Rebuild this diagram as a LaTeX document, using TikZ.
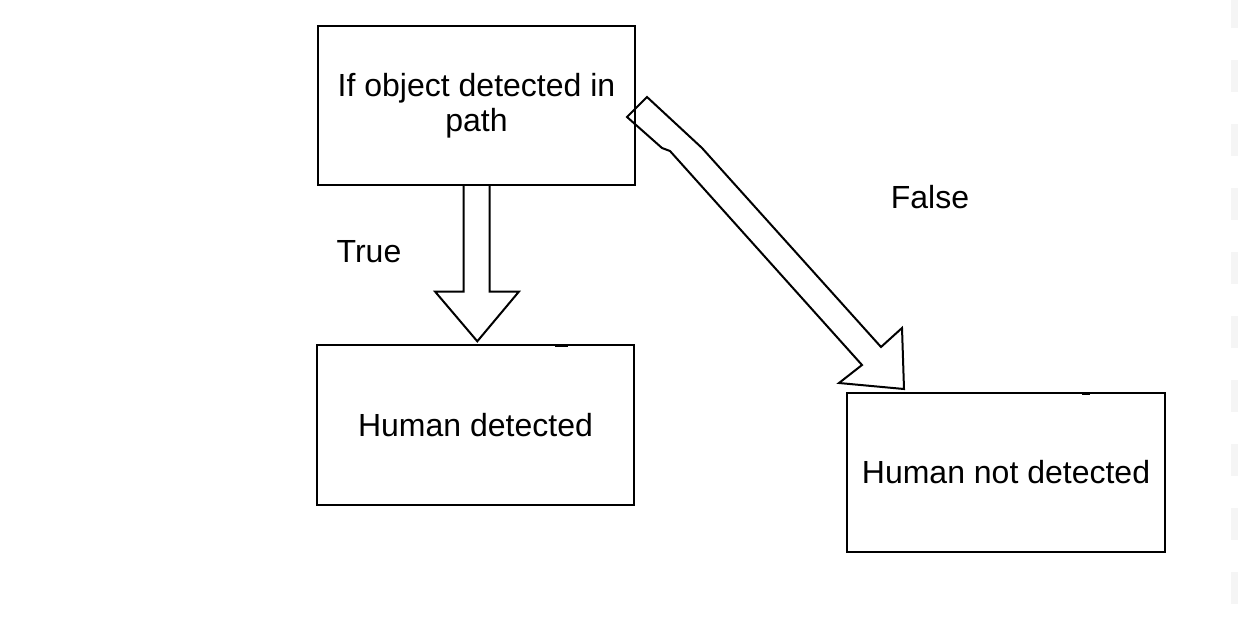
\documentclass[tikz,border=0pt]{standalone}
\usepackage{fontspec}
\setmainfont{Liberation Sans}
\usetikzlibrary{calc}
\begin{document}
\begin{tikzpicture}[x=1pt,y=-1pt,
  box/.style={draw, line width=2pt, inner sep=0pt, align=center,
    font=\fontsize{32}{35}\selectfont},
  lbl/.style={inner sep=0pt, font=\fontsize{32}{35}\selectfont},
  blockarrow/.style={draw, line width=2pt, line join=miter},
  tickmark/.style={line width=3pt}]
\useasboundingbox (0,0) rectangle (1238,632);
% right edge light dashes
\draw[draw=black!4, line width=7.3pt, dash pattern=on 32pt off 32pt, dash phase=4pt]
  (1234.35,0) -- (1234.35,632);
% boxes
\node[box, minimum width=317pt, minimum height=159pt] (b1) at (476.5,105.5) {If object detected in\\path};
\node[box, minimum width=317pt, minimum height=160pt] (b2) at (475.5,425) {Human detected};
\node[box, minimum width=318pt, minimum height=159pt] (b3) at (1006,472.5) {Human not detected};
% labels
\node[lbl] (ltrue) at (369,252) {True};
\node[lbl] (lfalse) at (930,197) {False};
% down block arrow (True)
\draw[blockarrow]
  ($(b1.south)+(-13,0)$) -- ($(b1.south)+(-13,105.5)$) -- ($(b1.south)+(-41.5,105.5)$)
  -- ($(b2.north)+(1.8,-2.7)$)
  -- ($(b1.south)+(42.5,105.5)$) -- ($(b1.south)+(13,105.5)$) -- ($(b1.south)+(13,0)$);
% diagonal block arrow (False)
\coordinate (tailA) at (647,97);
\coordinate (tailB) at (627,117);
\coordinate (tip) at ($(b3.north west)+(58,-3)$);
\draw[blockarrow]
  (tailA) -- (702,148) -- (881,347) -- (902,328) -- (tip)
  -- (839,383) -- (862,365) -- (670,151) -- (662,148) -- (tailB) -- cycle;
% small marks on box tops
\draw[tickmark] ($(b2.north)+(79.5,1.5)$) -- ($(b2.north)+(92.5,1.5)$);
\draw[tickmark] ($(b3.north)+(76,1.5)$) -- ($(b3.north)+(84,1.5)$);
\end{tikzpicture}
\end{document}
